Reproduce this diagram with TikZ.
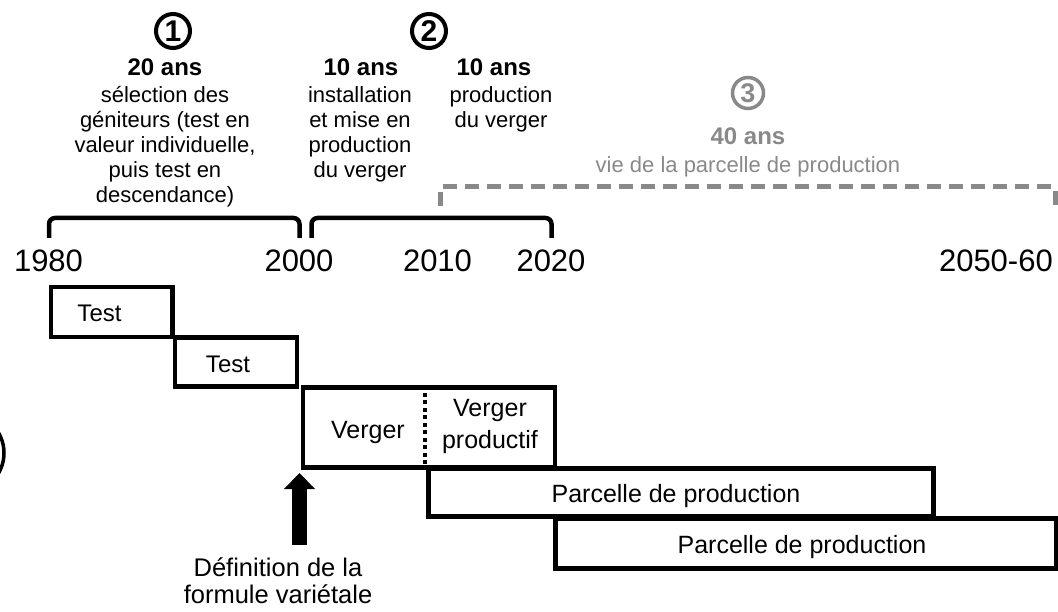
\documentclass[tikz,border=0pt]{standalone}
\usepackage{fontspec}
\setmainfont{Liberation Sans}
\usetikzlibrary{arrows.meta}
\definecolor{gr}{RGB}{137,137,137}
\newcommand\fz[2]{\fontsize{#1}{#2}\selectfont}
\newcommand\st[1]{\rule{0pt}{#1}}
\begin{document}
\begin{tikzpicture}[x=1pt,y=-1pt,
  box/.style={draw, line width=4.5pt, anchor=north west, inner sep=0pt},
  txt/.style={anchor=base, inner sep=0pt},
  blk/.style={anchor=north, inner sep=0pt, align=center, font=\fz{22}{25.2}},
  num/.style={circle, draw, line width=4pt, minimum size=34pt, inner sep=0pt, font=\fz{30}{30}\bfseries},
  brk/.style={line width=4.5pt, rounded corners=6pt},
  yr/.style={anchor=base, inner sep=0pt, font=\fz{31}{31}},
  bl/.style={txt, font=\fz{25}{25}},
]
\useasboundingbox (0,0) rectangle (1058,612);
\clip (0,0) rectangle (1058,612);

% circled numbers
\node[num] (n1) at (173,31) {1};
\node[num] (n2) at (429,31) {2};
\node[num, draw=gr, text=gr, line width=3.5pt, minimum size=31pt, font=\fz{27}{27}\bfseries] (n3) at (748,93) {3};

% headings
\node[txt, font=\fz{24}{24}\bfseries] (h1) at (165,76) {20 ans};
\node[blk] (d1) at (165,80) {\st{22pt}sélection des\\géniteurs (test en\\valeur individuelle,\\puis test en\\descendance)};
\node[txt, font=\fz{24}{24}\bfseries] (h2) at (361,76) {10 ans};
\node[blk] (d2) at (360,80) {\st{22pt}installation\\et mise en\\production\\du verger};
\node[txt, font=\fz{24}{24}\bfseries] (h3) at (494,76) {10 ans};
\node[blk] (d3) at (501,80) {\st{22pt}production\\du verger};
\node[txt, font=\fz{24}{24}\bfseries, text=gr] (h4) at (748,145) {40 ans};
\node[txt, font=\fz{22}{22}, text=gr] (d4) at (748,173) {vie de la parcelle de production};

% gray dashed bracket
\coordinate (g1) at (440,206);
\coordinate (g2) at (440,187);
\coordinate (g3) at (1055,187);
\coordinate (g4) at (1055,206);
\draw[gr, line width=5pt, dash pattern=on 14pt off 8pt] (g1) -- (g2) -- (g3) -- (g4);

% black brackets
\coordinate (b1a) at (49,238);
\coordinate (b1b) at (49,218);
\coordinate (b1c) at (299.5,218);
\coordinate (b1d) at (299.5,238);
\draw[brk] (b1a) -- (b1b) -- (b1c) -- (b1d);
\coordinate (b2a) at (311.5,238);
\coordinate (b2b) at (311.5,218);
\coordinate (b2c) at (551.5,218);
\coordinate (b2d) at (551.5,238);
\draw[brk] (b2a) -- (b2b) -- (b2c) -- (b2d);

% years
\node[yr] (y1980) at (48.5,272) {1980};
\node[yr] (y2000) at (299,272) {2000};
\node[yr] (y2010) at (437.5,272) {2010};
\node[yr] (y2020) at (551,272) {2020};
\node[yr, anchor=base east] (y2050) at (1053,272) {2050-60};

% boxes
\node[box, minimum width=121.5pt, minimum height=50pt] (t1) at (48.5,285) {};
\node[box, minimum width=122pt, minimum height=48.5pt] (t2) at (172.5,335.5) {};
\node[box, minimum width=252pt, minimum height=80pt] (vg) at (300.5,385) {};
\node[box, minimum width=505pt, minimum height=48pt] (p1) at (426,466) {};
\node[box, minimum width=501pt, minimum height=50pt] (p2) at (553,516) {};

\coordinate (dv1) at (425,385);
\coordinate (dv2) at (425,465);
\draw[line width=4pt, dash pattern=on 4pt off 3.5pt] (dv1) -- (dv2);

% box labels
\node[txt, font=\fz{24}{24}] (lt1) at (99.5,321.5) {Test};
\node[txt, font=\fz{24}{24}] (lt2) at (228,372.5) {Test};
\node[bl] (lv) at (368,438) {Verger};
\node[bl] (lvp1) at (490,417) {Verger};
\node[bl] (lvp2) at (490,448) {productif};
\node[bl] (lp1) at (676,502) {Parcelle de production};
\node[bl] (lp2) at (802,553) {Parcelle de production};

% arrow and definition
\node[anchor=north, inner sep=0pt, align=center, font=\fz{25.5}{27}] (def) at (278,551) {\st{25.5pt}Définition de la\\formule variétale};
\coordinate (arrS) at (299.5,545);
\coordinate (arrE) at (299.5,473);
\draw[line width=15pt, -{Triangle[width=31pt,length=16pt,line width=0pt]}] (arrS) -- (arrE);

% partial circle at left edge
\coordinate (lc) at (-36,453);
\draw[line width=3.5pt] (lc) circle (40pt);
\end{tikzpicture}
\end{document}
